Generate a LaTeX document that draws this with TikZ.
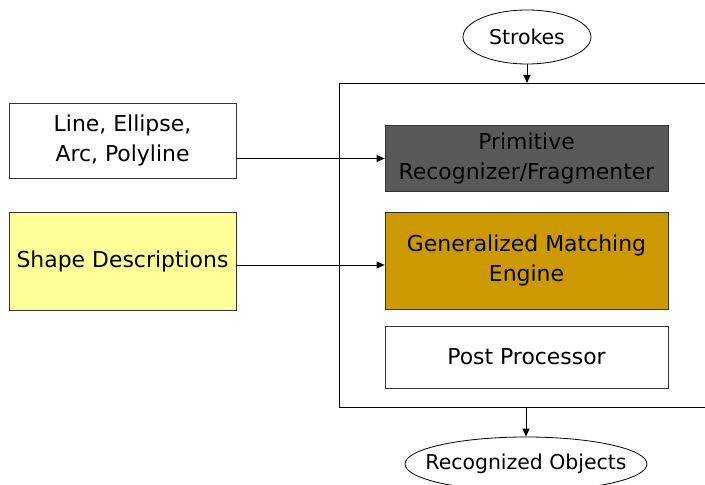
\documentclass[tikz,border=0pt]{standalone}
\usepackage{fontspec}
\setmainfont{DejaVu Sans}
\usetikzlibrary{arrows.meta,shapes.geometric}
\begin{document}
\begin{tikzpicture}[x=1bp,y=-1bp,
  every node/.style={font=\fontsize{22}{30}\selectfont, inner sep=0pt, align=center},
  blk/.style={draw=black!80, line width=0.8bp, rectangle},
  oval/.style={draw=black, line width=0.8bp, ellipse, font=\fontsize{20.5}{26}\selectfont},
  arr/.style={draw=black, line width=0.8bp, -{Triangle[length=8bp,width=7bp]}}]
\useasboundingbox (0,0) rectangle (705,485);
\clip (0,0) rectangle (705,485);
% outer frame (right side beyond picture)
\node[blk, draw=black, minimum width=390bp, minimum height=324bp, anchor=north west] (frame) at (339,83) {};
\node[oval, minimum width=128bp, minimum height=54bp] (strokes) at (527,37) {\makebox[0pt]{Strokes}};
\node[oval, minimum width=242bp, minimum height=54bp] (objects) at (526,464) {\makebox[0pt]{Recognized Objects}};
\node[blk, fill=white, minimum width=227bp, minimum height=75bp] (lines) at (122.5,140.5) {Line, Ellipse,\\Arc, Polyline};
\node[blk, fill={rgb,255:red,255;green,255;blue,153}, minimum width=227bp, minimum height=98bp] (shapes) at (122.5,261) {Shape Descriptions};
\node[blk, fill={rgb,255:red,89;green,89;blue,89}, minimum width=283bp, minimum height=66bp] (prim) at (526.5,158.5) {Primitive\\Recognizer/Fragmenter};
\node[blk, fill={rgb,255:red,204;green,153;blue,0}, minimum width=283bp, minimum height=97bp] (gme) at (526.5,260.5) {Generalized Matching\\Engine};
\node[blk, fill=white, minimum width=283bp, minimum height=62bp] (post) at (526.5,357) {Post Processor};
\draw[arr] (strokes.south) -- (strokes.south |- frame.north);
\draw[arr] (lines.east |- prim.west) -- (prim.west);
\draw[arr] ([yshift=-4bp]shapes.east) -- ([yshift=-4bp]shapes.east -| gme.west);
\draw[arr] (objects.north |- frame.south) -- (objects.north);
\end{tikzpicture}
\end{document}
